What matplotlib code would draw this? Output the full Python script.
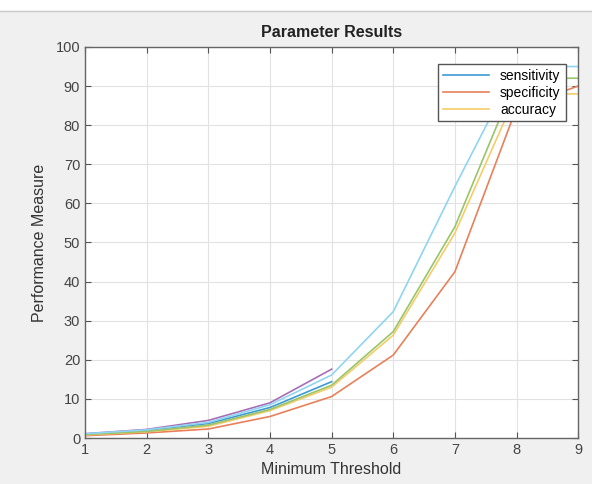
import matplotlib
matplotlib.use("Agg")
import matplotlib.pyplot as plt

plt.rcParams['font.family'] = ['Liberation Sans', 'DejaVu Sans']

thresholds = [1, 2, 3, 4, 5, 6, 7, 8, 9]
thresholds_low = [1, 2, 3, 4, 5]

# series shown in the legend
sensitivity = [1.0, 2.0, 3.7, 7.8, 14.4]
specificity = [0.6, 1.3, 2.3, 5.5, 10.6, 21.2, 42.5, 84.4, 90.0]
accuracy = [0.8, 1.6, 3.0, 7.0, 13.0, 26.3, 52.4, 88.0, 88.0]
# extra unlabelled runs
run4 = [1.1, 2.2, 4.5, 9.0, 17.6]
run5 = [0.9, 1.7, 3.3, 7.3, 13.5, 27.2, 54.0, 92.0, 92.0]
run6 = [1.1, 2.1, 4.0, 8.5, 16.1, 32.3, 64.3, 95.0, 95.0]

bg = '#f0f0f0'
fig = plt.figure(figsize=(5.92, 4.84), dpi=100, facecolor=bg)
ax = fig.add_axes([0.1436, 0.095, 0.833, 0.808])

lw = 1.2
ax.plot(thresholds_low, sensitivity, color='#3d9ad4', lw=lw, label='sensitivity')
ax.plot(thresholds, specificity, color='#e8805a', lw=lw, label='specificity')
ax.plot(thresholds, accuracy, color='#f5cc6a', lw=lw, label='accuracy')
ax.plot(thresholds_low, run4, color='#a86db5', lw=lw)
ax.plot(thresholds, run5, color='#98c56a', lw=lw)
ax.plot(thresholds, run6, color='#8fd5f3', lw=lw)

ax.set_xlim(1, 9)
ax.set_ylim(0, 100)
ax.set_xticks(range(1, 10))
ax.set_yticks(range(0, 101, 10))
ax.grid(True, color='#e2e2e2', lw=0.8)
ax.set_axisbelow(True)
ax.tick_params(direction='in', length=4, colors='#555555', labelsize=10.5,
               labelcolor='#444444', top=True, right=True)
for s in ax.spines.values():
    s.set_color('#666666')
    s.set_linewidth(1.0)

ax.set_title('Parameter Results', fontsize=11.5, fontweight='bold', color='#222222', pad=7)
ax.set_xlabel('Minimum Threshold', fontsize=11.5, color='#333333', labelpad=4)
ax.set_ylabel('Performance Measure', fontsize=11.5, color='#333333', labelpad=6)

leg = ax.legend(loc='upper right', bbox_to_anchor=(0.98, 0.963), fontsize=10,
                fancybox=False, framealpha=1, edgecolor='#555555',
                handlelength=3.3, borderpad=0.35, labelspacing=0.2, borderaxespad=0.2)
leg.get_frame().set_linewidth(1.0)

# top strip of the screenshot window
fig.patches.append(plt.Rectangle((0, 0.978), 1, 0.022, transform=fig.transFigure,
                                 facecolor='white', edgecolor='none'))
fig.lines.append(plt.Line2D([0, 1], [0.978, 0.978], transform=fig.transFigure,
                            color='#c8c8c8', lw=1))

fig.savefig('out.png', dpi=100, facecolor=bg)
